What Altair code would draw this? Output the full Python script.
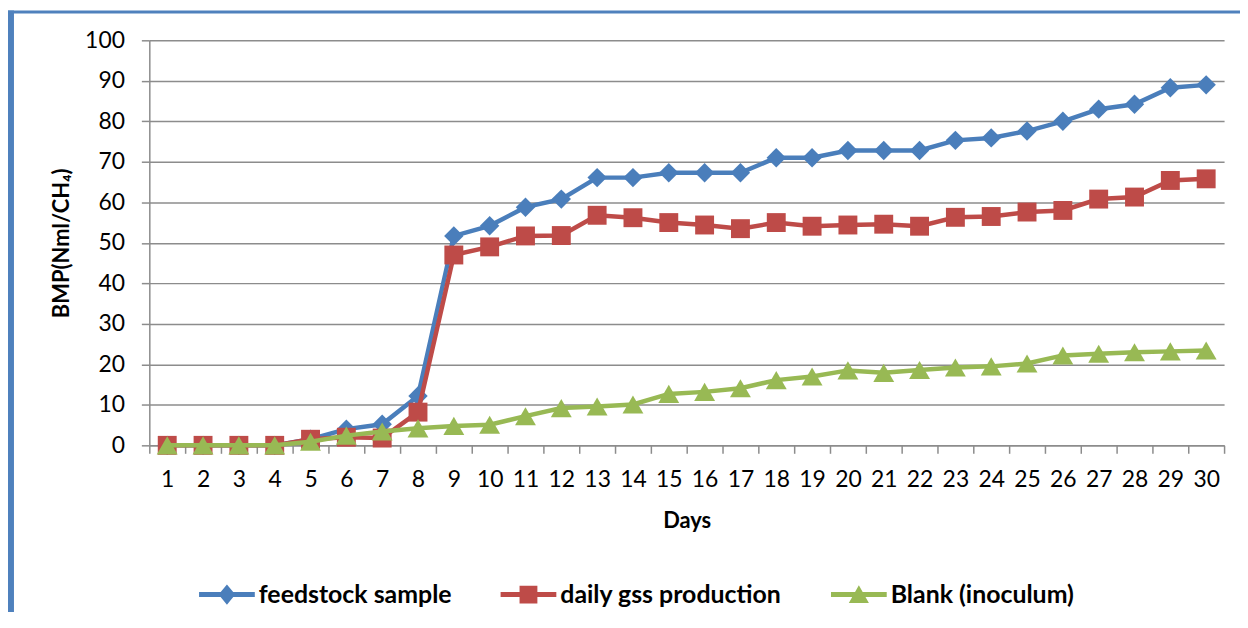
import altair as alt
import pandas as pd

# ---------------- data ----------------
days = list(range(1, 31))
feedstock = [0, 0, 0, 0, 1.5, 4.0, 5.2, 12.2, 51.7, 54.2, 58.8, 60.8, 66.1, 66.1, 67.3,
             67.3, 67.3, 71.0, 71.0, 72.8, 72.8, 72.8, 75.3, 75.9, 77.6, 80.0, 83.0, 84.2, 88.3, 89.0]
daily_gas = [0, 0, 0, 0, 1.5, 2.0, 1.8, 8.2, 47.0, 49.0, 51.7, 51.8, 56.8, 56.2, 55.0,
             54.4, 53.5, 55.0, 54.1, 54.4, 54.6, 54.1, 56.3, 56.5, 57.6, 58.0, 60.8, 61.3, 65.4, 65.8]
blank = [0, 0, 0, 0, 0.9, 2.4, 3.4, 4.2, 4.8, 5.1, 7.2, 9.2, 9.6, 10.1, 12.7,
         13.2, 14.1, 16.1, 17.0, 18.5, 17.9, 18.6, 19.2, 19.5, 20.2, 22.2, 22.6, 23.0, 23.2, 23.4]

series_names = ["feedstock sample", "daily gss production", "Blank (inoculum)"]
series_colors = ["#4A7EBB", "#BE4B48", "#98B954"]
marker_shapes = ["diamond", "square", "triangle-up"]
marker_sizes = [380, 361, 441]
y_ticks = list(range(0, 101, 10))

# legend symbols: line segment + marker (unit path, scaled by symbol size)
legend_paths = [
    "M-1,-0.09L1,-0.09L1,0.09L-1,0.09Z M0,-0.36L0.3,0L0,0.36L-0.3,0Z",
    "M-1,-0.09L1,-0.09L1,0.09L-1,0.09Z M-0.32,-0.32L0.32,-0.32L0.32,0.32L-0.32,0.32Z",
    "M-1,-0.09L1,-0.09L1,0.09L-1,0.09Z M0,-0.34L0.36,0.3L-0.36,0.3Z",
]

rows = []
for name, vals in zip(series_names, [feedstock, daily_gas, blank]):
    for d, v in zip(days, vals):
        rows.append({"day": d, "value": v, "series": name})
df = pd.DataFrame(rows)

FONT = "Lato"
GRID = "#8c8c8c"
FRAME = "#4F81BD"

x_enc = alt.X(
    "day:O",
    scale=alt.Scale(type="band", paddingInner=0, paddingOuter=0),
    axis=alt.Axis(title="Days", labelAngle=0, tickBand="extent", grid=False,
                  tickSize=8, labelPadding=15, titlePadding=20),
)
y_enc = alt.Y(
    "value:Q",
    scale=alt.Scale(domain=[0, 100]),
    axis=alt.Axis(title="BMP(Nml/CH₄)", values=y_ticks, grid=True,
                  tickSize=8, labelPadding=17, titlePadding=11),
)

layers = []
for name, col, shp, sz in zip(series_names, series_colors, marker_shapes, marker_sizes):
    base = alt.Chart(df).transform_filter(alt.datum.series == name)
    layers.append(base.mark_line(color=col, strokeWidth=4.5).encode(x=x_enc, y=y_enc))
    layers.append(base.mark_point(shape=shp, size=sz, filled=True, fill=col, opacity=1,
                                  strokeWidth=0).encode(x=x_enc, y=y_enc))

leg = alt.Legend(title=None, orient="none", legendX=50, legendY=529, direction="horizontal",
                 symbolSize=3136, symbolStrokeWidth=0, labelFont=FONT, labelFontSize=25,
                 labelFontWeight="bold", labelColor="black", labelOffset=4,
                 columnPadding=49, padding=0, labelLimit=400)

legend_layer = (
    alt.Chart(df)
    .transform_filter("datum.value < -1000")
    .mark_point(filled=True, opacity=1)
    .encode(
        x=x_enc, y=y_enc,
        shape=alt.Shape("series:N", scale=alt.Scale(domain=series_names, range=legend_paths), legend=leg),
        fill=alt.Fill("series:N", scale=alt.Scale(domain=series_names, range=series_colors), legend=leg),
    )
)

one = pd.DataFrame({"a": [0]})
frame_left = alt.Chart(one).mark_rule(color=FRAME, strokeWidth=6).encode(
    x=alt.value(-139), y=alt.value(-30), y2=alt.value(620))
frame_top = alt.Chart(one).mark_rule(color=FRAME, strokeWidth=3).encode(
    x=alt.value(-142), x2=alt.value(1110), y=alt.value(-28.5))

chart = (
    alt.layer(*layers, legend_layer, frame_left, frame_top)
    .properties(width=1080, height=407, autosize=alt.AutoSizeParams(type="none"),
                padding={"left": 142, "top": 31, "right": 16, "bottom": 166},
                background="white")
    .configure_view(strokeOpacity=0)
    .configure_axis(domainColor=GRID, domainWidth=1.5, gridColor=GRID, gridWidth=1.5,
                    tickColor=GRID, tickWidth=1.5, labelFont=FONT, labelFontSize=23,
                    labelColor="black", titleFont=FONT, titleFontSize=22,
                    titleFontWeight="bold", titleColor="black")
)

chart.save("out.html", embed_options={"renderer": "svg", "actions": False})
